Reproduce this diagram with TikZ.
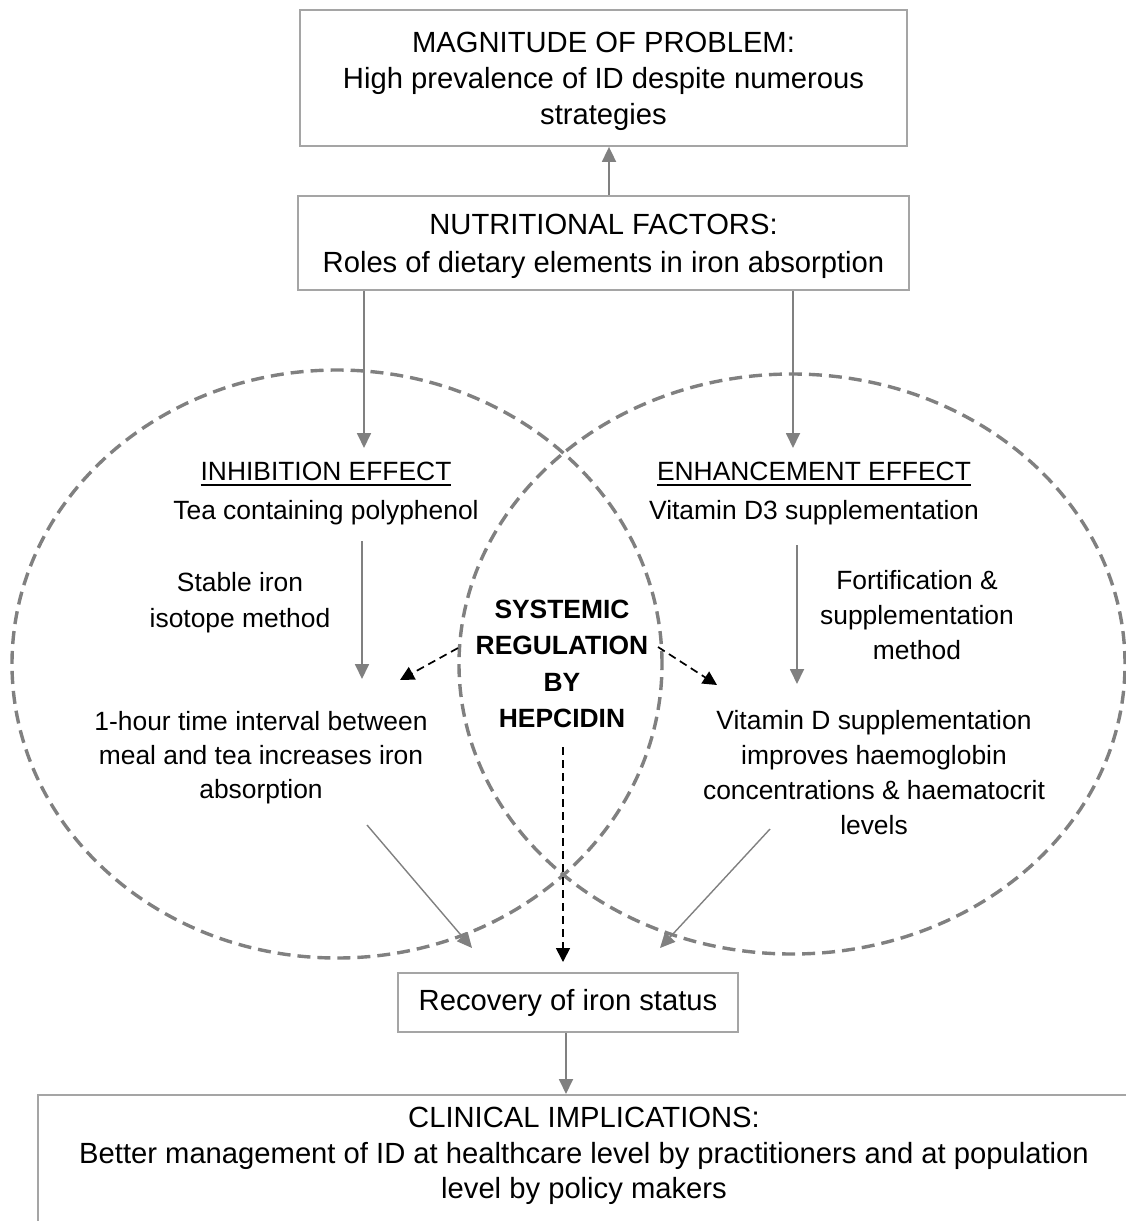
\documentclass[tikz,border=0pt]{standalone}
\usepackage{fontspec}
\setmainfont{Liberation Sans}
\usetikzlibrary{arrows.meta}
\definecolor{boxgray}{RGB}{165,165,165}
\definecolor{arrgray}{RGB}{128,128,128}
\definecolor{ellgray}{RGB}{128,128,128}
\newcommand{\myul}[1]{\leavevmode\vtop{\hbox{#1}\kern2.5pt\hrule height 1.8pt}}
\begin{document}
\begin{tikzpicture}[x=1pt,y=-1pt,
  box/.style={draw=boxgray, line width=1.8pt, inner sep=0pt, align=center, font=\fontsize{29.2}{36}\selectfont},
  boxtext/.style={inner sep=0pt, align=center, font=\fontsize{29.2}{35.5}\selectfont},
  txt/.style={inner sep=0pt, align=center, font=\fontsize{26.4}{35}\selectfont},
  garrow/.style={draw=arrgray, line width=1.8pt, -{Triangle[length=15pt,width=14pt]}},
  darrow/.style={draw=black, line width=1.7pt, dash pattern=on 8pt off 5pt, -{Triangle[length=14pt,width=14pt]}},
  ell/.style={draw=ellgray, line width=3.4pt, dash pattern=on 13pt off 7pt}
]
\path[use as bounding box, clip] (0,0) rectangle (1126,1221);

% dashed ellipses
\draw[ell] (337,664) ellipse [x radius=325pt, y radius=294pt];
\draw[ell] (792,664) ellipse [x radius=333pt, y radius=290pt];

% boxes
\node[box, minimum width=607pt, minimum height=136pt] (mag) at (603.5,78) {};
\node[boxtext, font=\fontsize{29.2}{36}\selectfont] (magt) at (603.5,81)
  {MAGNITUDE OF PROBLEM:\\High prevalence of ID despite numerous\\strategies};
\node[box, minimum width=611pt, minimum height=94pt] (nut) at (603.5,243) {};
\node[boxtext, font=\fontsize{29.2}{36}\selectfont] (nutt) at (603.5,246)
  {NUTRITIONAL FACTORS:\\[2pt]Roles of dietary elements in iron absorption};
\node[box, minimum width=340pt, minimum height=59pt] (rec) at (568,1002.5)
  {Recovery of iron status};
\node[box, minimum width=1092pt, minimum height=166pt, anchor=north] (clinbox) at (584,1094) {};
\node[boxtext] (clin) at (584,1156)
  {CLINICAL IMPLICATIONS:\\Better management of ID at healthcare level by practitioners and at population\\level by policy makers};

% texts inside ellipses
\node[txt, font=\fontsize{26.4}{39}\selectfont] (inh) at (326,494)
  {\myul{INHIBITION EFFECT}\\Tea containing polyphenol};
\node[txt, font=\fontsize{26.4}{39}\selectfont] (enh) at (814,494)
  {\myul{ENHANCEMENT EFFECT}\\Vitamin D3 supplementation};
\node[txt, font=\fontsize{26.4}{36}\selectfont] (stab) at (240,603)
  {Stable iron\\isotope method};
\node[txt, font=\fontsize{26.4}{34}\selectfont] (oneh) at (261,758)
  {1-hour time interval between\\meal and tea increases iron\\absorption};
\node[txt, font=\bfseries\fontsize{26.4}{36.5}\selectfont] (hep) at (562,664)
  {SYSTEMIC\\REGULATION\\BY\\HEPCIDIN};
\node[txt] (fort) at (917,615)
  {Fortification \&\\supplementation\\method};
\node[txt] (vitd) at (874,773)
  {Vitamin D supplementation\\improves haemoglobin\\concentrations \& haematocrit\\levels};

% connector end points
\coordinate (inhTop) at (364,448);
\coordinate (enhTop) at (793,448);
\coordinate (la1) at (362,541);
\coordinate (la2) at (362,679);
\coordinate (ra1) at (797,545);
\coordinate (ra2) at (797,684);
\coordinate (hl) at (458,648);
\coordinate (hlt) at (400,680);
\coordinate (hr) at (658,647);
\coordinate (hrt) at (717,685);
\coordinate (hb) at (563,747);
\coordinate (hbt) at (563,962);
\coordinate (ld1) at (367,825);
\coordinate (ld2) at (472,948);
\coordinate (rd1) at (770,829);
\coordinate (rd2) at (660,948);

% connectors
\draw[garrow] ([xshift=5.5pt]nut.north) -- ([xshift=5.5pt]mag.south);
\draw[garrow] (nut.south -| inhTop) -- (inhTop);
\draw[garrow] (nut.south -| enhTop) -- (enhTop);
\draw[garrow] (la1) -- (la2);
\draw[garrow] (ra1) -- (ra2);
\draw[darrow] (hl) -- (hlt);
\draw[darrow] (hr) -- (hrt);
\draw[darrow] (hb) -- (hbt);
\draw[garrow, line width=1.4pt] (ld1) -- (ld2);
\draw[garrow, line width=1.4pt] (rd1) -- (rd2);
\draw[garrow] ([xshift=-2pt]rec.south) -- ([xshift=-2pt]rec.south |- clinbox.north);
\end{tikzpicture}
\end{document}
